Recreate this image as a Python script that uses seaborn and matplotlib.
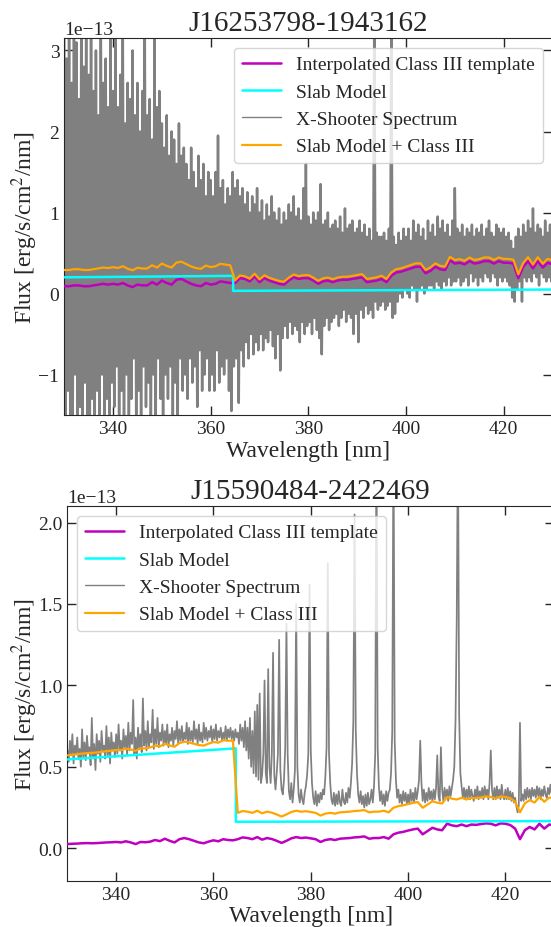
import numpy as np
import matplotlib
matplotlib.use("Agg")
import matplotlib.pyplot as plt
import seaborn as sns

# ---------------- data (flux in units of 1e-13 erg/s/cm2/nm) ----------------
titles = ["J16253798-1943162", "J15590484-2422469"]
labels = ["Interpolated Class III template", "Slab Model",
          "X-Shooter Spectrum", "Slab Model + Class III"]

wave_tpl = np.arange(330, 431, 1.0)          # template sampling (1 nm)
wave_spec = np.linspace(330, 430, 401)       # spectrum sampling (0.25 nm)

# --- top panel ---
tpl_top = [0.09,0.09,0.10,0.10,0.09,0.09,0.10,0.11,0.12,0.11,
           0.12,0.11,0.13,0.10,0.08,0.11,0.10,0.10,0.14,0.11,
           0.16,0.13,0.11,0.17,0.18,0.15,0.12,0.10,0.09,0.13,
           0.11,0.12,0.15,0.14,0.13,0.13,0.19,0.18,0.15,0.21,
           0.14,0.19,0.16,0.14,0.12,0.11,0.16,0.20,0.18,0.19,
           0.19,0.16,0.12,0.15,0.16,0.14,0.16,0.17,0.17,0.18,
           0.19,0.20,0.14,0.15,0.16,0.18,0.14,0.22,0.26,0.27,
           0.29,0.31,0.33,0.33,0.25,0.28,0.33,0.30,0.29,0.41,
           0.37,0.38,0.36,0.40,0.37,0.38,0.40,0.40,0.37,0.40,
           0.38,0.38,0.37,0.19,0.33,0.40,0.31,0.40,0.32,0.38,
           0.36]
sum_top = [0.29,0.29,0.30,0.30,0.29,0.29,0.30,0.31,0.32,0.315,
           0.325,0.315,0.336,0.306,0.287,0.318,0.308,0.309,0.349,0.32,
           0.37,0.341,0.321,0.382,0.393,0.363,0.334,0.314,0.305,0.345,
           0.326,0.337,0.367,0.357,0.348,0.163,0.223,0.213,0.183,0.244,
           0.174,0.224,0.194,0.174,0.155,0.145,0.195,0.235,0.215,0.225,
           0.227,0.197,0.157,0.187,0.197,0.177,0.197,0.207,0.207,0.217,
           0.229,0.239,0.179,0.189,0.200,0.220,0.180,0.261,0.301,0.311,
           0.332,0.352,0.372,0.372,0.292,0.322,0.372,0.342,0.332,0.452,
           0.414,0.424,0.404,0.444,0.414,0.424,0.445,0.445,0.415,0.445,
           0.427,0.427,0.417,0.237,0.377,0.448,0.358,0.448,0.368,0.428,
           0.409]
slab_wave = [330.0, 364.6, 364.6, 430.0]
slab_top = [0.200, 0.218, 0.033, 0.049]
spec_top = [
 3.4,-1.7,2.9,-1.2,3.3,-1.6,2.6,-1.5,3.5,-1.0,3.1,-1.7,2.4,-1.4,3.3,-1.8,2.8,-1.1,3.4,-1.6,
 2.7,-1.6,3.3,-1.3,2.5,-1.7,3.0,-1.2,2.2,-1.5,3.4,-1.0,2.6,-1.6,2.9,-1.3,2.3,-1.7,3.2,-1.1,
 2.5,-1.4,3.3,-0.9,2.3,-1.6,2.7,-1.2,3.3,-1.5,2.1,-1.0,2.6,-1.7,2.4,-1.3,3.0,-0.8,2.2,-1.6,
 2.6,-1.2,2.0,-1.6,2.5,-0.9,3.3,-1.4,2.2,-1.1,2.4,-1.7,1.9,-1.0,3.3,-1.5,2.3,-0.8,2.5,-1.3,
 2.1,-1.6,1.8,-1.0,2.2,-1.3,1.7,-0.9,2.0,-1.5,1.9,-1.1,1.6,-1.6,2.1,-0.8,1.7,-1.2,1.8,-1.0,
 1.6,-1.3,1.4,-0.8,1.8,-1.1,1.5,-0.9,1.3,-1.4,1.7,-0.7,1.4,-1.2,1.6,-1.0,1.2,-0.8,1.5,-1.2,
 1.4,-1.0,1.2,-1.2,1.5,-0.7,1.95,-1.1,1.3,-0.9,1.4,-1.0,1.1,-0.8,1.3,-1.2,1.2,-1.45,1.5,-0.9,
 1.3,-0.8,1.4,-1.35,1.2,-0.7,1.3,-0.9,1.1,-0.6,1.25,-0.8,1.0,-0.5,1.2,-0.75,1.1,-0.6,1.3,-0.7,
 1.0,-0.5,1.15,-0.7,0.9,-0.55,1.1,-0.6,0.95,-0.45,1.2,-0.65,1.0,-0.8,0.9,-0.5,1.05,-0.95,0.85,-0.55,
 1.0,-0.4,0.9,-0.55,1.1,-0.35,1.0,-0.5,1.2,-0.4,0.95,-0.45,1.05,-0.6,0.9,-0.35,1.3,-0.5,1.6,-0.4,
 0.95,-0.35,0.85,-0.5,1.0,-0.3,0.9,-0.45,1.0,-0.55,1.35,-0.75,0.85,-0.4,0.9,-0.3,1.0,-0.45,0.8,-0.35,
 0.85,-0.3,0.9,-0.25,0.8,-0.4,0.95,-0.3,0.75,-0.2,1.05,-0.35,0.8,-0.25,0.85,-0.3,0.9,-0.5,0.75,-0.25,
 0.8,-0.6,0.9,-0.2,0.75,-0.3,0.85,-0.15,0.7,-0.25,0.8,-0.2,0.65,-0.3,3.3,-0.1,0.75,-0.2,0.7,-0.15,
 0.7,-0.1,0.75,-0.2,0.65,-0.15,0.8,-0.1,3.3,-0.3,0.7,-0.25,0.6,-0.1,0.75,0.0,0.65,-0.05,0.8,0.05,
 0.7,0.0,0.8,-0.05,0.65,0.1,0.9,0.05,0.75,-0.1,0.85,0.05,0.7,0.1,0.8,0.0,0.65,0.05,0.9,0.1,
 0.75,0.1,0.85,0.05,0.7,0.15,0.95,0.1,0.8,0.05,0.9,0.15,0.75,0.1,0.85,0.2,0.7,0.1,0.9,0.15,
 1.3,0.15,0.8,0.2,0.75,0.1,0.85,0.15,0.7,0.2,0.8,0.1,0.75,0.25,0.85,0.15,0.7,0.2,0.8,0.1,
 0.75,0.2,0.85,0.15,0.7,0.25,0.8,0.2,0.9,0.15,0.75,0.25,0.7,0.2,0.85,0.1,0.8,0.2,0.75,0.15,
 0.8,0.2,0.7,0.15,0.75,0.1,0.65,-0.05,0.55,-0.1,0.7,0.05,0.8,0.15,0.7,-0.1,0.85,0.2,0.75,0.15,
 0.9,0.2,0.8,0.15,1.05,0.25,0.75,0.2,0.85,0.1,0.8,0.25,0.7,0.2,0.9,0.15,0.75,0.2,0.85,0.15,
 0.6]

# --- bottom panel ---
tpl_bot = [0.025,0.027,0.028,0.030,0.031,0.030,0.031,0.033,0.035,0.036,
           0.038,0.035,0.042,0.035,0.025,0.038,0.036,0.040,0.050,0.043,
           0.058,0.045,0.035,0.055,0.062,0.055,0.045,0.035,0.030,0.040,
           0.048,0.042,0.055,0.050,0.048,0.055,0.066,0.062,0.055,0.068,
           0.052,0.062,0.056,0.045,0.032,0.045,0.060,0.068,0.062,0.065,
           0.060,0.055,0.038,0.050,0.055,0.050,0.058,0.060,0.062,0.066,
           0.068,0.072,0.058,0.062,0.062,0.068,0.058,0.085,0.095,0.100,
           0.108,0.115,0.120,0.085,0.105,0.125,0.115,0.110,0.150,0.140,
           0.135,0.145,0.135,0.145,0.143,0.148,0.152,0.150,0.140,0.152,
           0.150,0.142,0.120,0.055,0.110,0.130,0.115,0.150,0.120,0.145,
           0.140]
sum_bot = [0.570,0.574,0.577,0.581,0.584,0.585,0.588,0.592,0.596,0.599,
           0.603,0.602,0.611,0.606,0.598,0.613,0.613,0.619,0.630,0.625,
           0.642,0.631,0.623,0.645,0.654,0.649,0.641,0.633,0.630,0.642,
           0.652,0.648,0.663,0.660,0.660,0.217,0.228,0.224,0.217,0.230,
           0.214,0.224,0.218,0.207,0.194,0.207,0.222,0.230,0.224,0.227,
           0.222,0.217,0.200,0.212,0.217,0.212,0.220,0.222,0.224,0.228,
           0.230,0.234,0.220,0.224,0.224,0.230,0.220,0.248,0.258,0.263,
           0.271,0.278,0.283,0.248,0.268,0.288,0.279,0.274,0.314,0.304,
           0.299,0.309,0.299,0.309,0.307,0.312,0.317,0.315,0.305,0.317,
           0.315,0.307,0.285,0.220,0.275,0.295,0.280,0.315,0.285,0.311,
           0.306]
slab_bot = [0.545, 0.613, 0.162, 0.166]
spec_bot = [
 0.60,0.53,0.66,0.57,0.70,0.52,0.63,0.58,0.68,0.55,0.61,0.50,0.73,0.56,0.65,0.54,0.69,0.59,0.62,0.51,
 0.80,0.55,0.64,0.48,0.70,0.58,0.66,0.53,0.72,0.60,0.63,0.55,0.75,0.57,0.68,0.52,0.71,0.60,0.65,0.56,
 0.70,0.58,0.76,0.60,0.66,0.55,0.73,0.62,0.69,0.57,0.77,0.60,0.71,0.64,0.91,0.58,0.68,0.55,0.74,0.61,
 0.70,0.59,0.92,0.63,0.72,0.60,0.78,0.62,0.70,0.65,0.85,0.61,0.73,0.64,0.80,0.62,0.71,0.66,0.76,0.63,
 0.72,0.64,0.76,0.62,0.70,0.66,0.74,0.63,0.72,0.67,0.78,0.64,0.73,0.66,0.75,0.65,0.71,0.67,0.77,0.64,
 0.74,0.66,0.72,0.65,0.78,0.67,0.73,0.64,0.76,0.66,0.71,0.65,0.77,0.67,0.74,0.66,0.72,0.68,0.75,0.65,
 0.73,0.67,0.76,0.66,0.72,0.68,0.74,0.66,0.71,0.67,0.75,0.66,0.73,0.68,0.74,0.67,0.72,0.66,0.73,0.68,
 0.71,0.64,0.76,0.66,0.74,0.62,0.78,0.60,0.74,0.55,0.80,0.50,0.72,0.46,0.84,0.44,0.88,0.42,0.95,0.40,
 0.45,0.58,1.03,0.46,0.40,1.10,0.50,0.40,0.58,1.20,0.45,0.36,0.46,0.58,1.28,0.48,0.36,0.33,0.42,0.62,
 1.38,0.58,0.35,0.30,0.40,0.28,0.36,0.48,1.50,0.50,0.33,0.28,0.36,0.30,0.27,0.34,0.38,0.45,0.58,1.62,
 0.60,0.40,0.31,0.27,0.35,0.26,0.33,0.28,0.34,0.30,0.36,0.33,0.44,0.62,1.75,0.58,0.40,0.30,0.27,0.34,
 0.26,0.33,0.27,0.35,0.28,0.26,0.36,0.29,0.27,0.34,0.28,0.37,0.31,0.40,0.52,0.78,2.05,0.72,0.46,0.33,
 0.28,0.35,0.27,0.32,0.25,0.33,0.26,0.34,0.27,0.30,0.36,0.28,0.38,0.58,2.60,0.62,0.38,0.29,0.35,0.27,
 0.33,0.26,0.35,0.29,0.34,0.36,0.46,0.72,2.60,0.66,0.42,0.31,0.36,0.28,0.33,0.27,0.35,0.29,0.34,0.27,
 0.33,0.27,0.36,0.29,0.34,0.28,0.37,0.30,0.35,0.42,0.66,0.40,0.29,0.36,0.28,0.34,0.29,0.37,0.30,0.35,
 0.29,0.36,0.30,0.37,0.57,0.32,0.29,0.62,0.36,0.29,0.37,0.31,0.36,0.29,0.38,0.32,0.37,0.42,0.50,0.78,
 1.40,2.60,0.82,0.46,0.38,0.31,0.37,0.30,0.36,0.31,0.38,0.30,0.36,0.32,0.29,0.36,0.31,0.38,0.30,0.35,
 0.31,0.37,0.30,0.38,0.32,0.36,0.30,0.40,0.60,0.36,0.30,0.37,0.30,0.38,0.31,0.36,0.30,0.39,0.32,0.30,
 0.36,0.30,0.37,0.30,0.35,0.29,0.34,0.28,0.31,0.26,0.22,0.26,0.77,0.29,0.33,0.29,0.36,0.30,0.37,0.31,
 0.36,0.30,0.37,0.32,0.36,0.31,0.38,0.32,0.37,0.30,0.36,0.32,0.38,0.33,0.31,0.37,0.33,0.39,0.34,0.41,
 0.38]

ylims = [(-1.5, 3.15), (-0.2, 2.1)]
legend_locs = ["upper right", "upper left"]
spec_widths = [1.8, 1.25]
SCALE = 1e-13

# ---------------- style ----------------
sns.set_style("ticks")
plt.rcParams["font.family"] = ["Liberation Serif", "DejaVu Serif"]
plt.rcParams["mathtext.fontset"] = "stix"
plt.rcParams["axes.linewidth"] = 0.8

fig = plt.figure(figsize=(5.51, 9.28), dpi=100)
ax_top = fig.add_axes([0.1165, 0.5517, 0.8862, 0.4059])
ax_bot = fig.add_axes([0.1225, 0.0499, 0.8830, 0.4034])

panels = [
    (ax_top, tpl_top, slab_top, spec_top, sum_top),
    (ax_bot, tpl_bot, slab_bot, spec_bot, sum_bot),
]

for i, (ax, tpl, slab, spec, tot) in enumerate(panels):
    sns.lineplot(x=wave_tpl, y=np.array(tpl) * SCALE, ax=ax, color="m",
                 linewidth=1.8, label=labels[0], estimator=None, sort=False, zorder=3)
    sns.lineplot(x=slab_wave, y=np.array(slab) * SCALE, ax=ax, color="cyan",
                 linewidth=1.8, label=labels[1], estimator=None, sort=False, zorder=3)
    sns.lineplot(x=wave_spec, y=np.array(spec) * SCALE, ax=ax, color="gray",
                 linewidth=spec_widths[i], label=labels[2], estimator=None,
                 sort=False, zorder=1)
    sns.lineplot(x=wave_tpl, y=np.array(tot) * SCALE, ax=ax, color="orange",
                 linewidth=1.6, label=labels[3], estimator=None, sort=False, zorder=3)
    ax.set_xlim(330, 430)
    ax.set_ylim(ylims[i][0] * SCALE, ylims[i][1] * SCALE)
    ax.set_title(titles[i], fontsize=21)
    ax.set_xlabel("Wavelength [nm]", fontsize=17, labelpad=2)
    ax.set_ylabel("Flux [erg/s/cm$^2$/nm]", fontsize=17, labelpad=-1)
    ax.tick_params(direction="in", top=True, right=True, length=6.5,
                   width=1.0, labelsize=14)
    ax.yaxis.get_offset_text().set_fontsize(14)
    leg = ax.legend(loc=legend_locs[i], fontsize=14)
    leg.get_lines()[2].set_linewidth(1.0)

fig.savefig("out.png", dpi=100)
